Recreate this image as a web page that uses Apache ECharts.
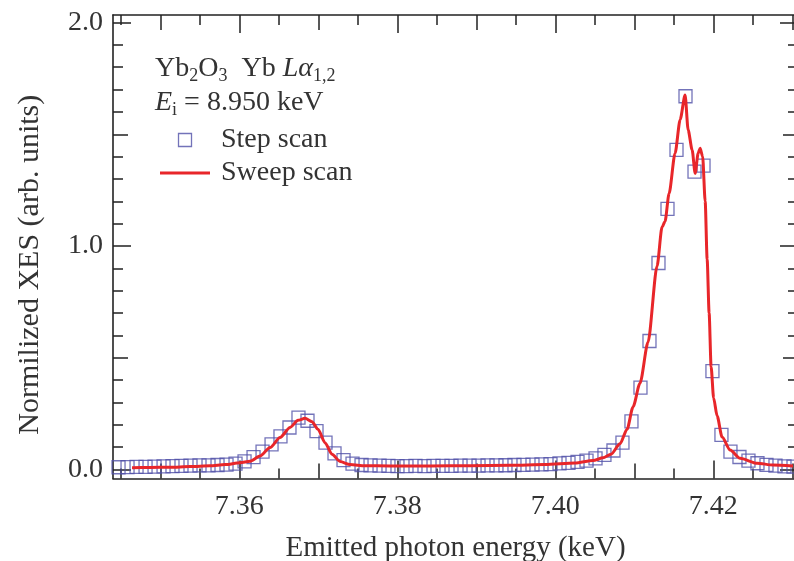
<!DOCTYPE html>
<html><head><meta charset="utf-8">
<script src="https://cdn.jsdelivr.net/npm/echarts@6/dist/echarts.min.js"></script>
<style>html,body{margin:0;padding:0;background:#fff}#c{width:794px;height:561px}</style>
</head><body><div id="c"></div>
<script>
// Step scan (squares)
const stepEnergy = [7.34471,7.34585,7.34699,7.34813,7.34927,7.35041,7.35154,7.35268,7.35382,7.35496,
  7.35610,7.35724,7.35838,7.35952,7.36066,7.36180,7.36294,7.36408,7.36521,7.36635,
  7.36749,7.36863,7.36977,7.37091,7.37205,7.37319,7.37433,7.37547,7.37661,7.37775,
  7.37888,7.38002,7.38116,7.38230,7.38344,7.38458,7.38572,7.38686,7.38800,7.38914,
  7.39028,7.39142,7.39255,7.39369,7.39483,7.39597,7.39711,7.39825,7.39939,7.40053,
  7.40167,7.40281,7.40395,7.40509,7.40622,7.40736,7.40850,7.40964,7.41078,7.41192,
  7.41306,7.41420,7.41534,7.41648,7.41762,7.41876,7.41989,7.42103,7.42217,7.42331,
  7.42445,7.42559,7.42673,7.42787,7.42901,7.43015];
const stepXES = [0.010,0.011,0.012,0.012,0.013,0.014,0.015,0.016,0.017,0.018,
  0.018,0.020,0.022,0.026,0.036,0.055,0.080,0.112,0.148,0.188,
  0.232,0.218,0.172,0.120,0.072,0.042,0.026,0.020,0.018,0.017,
  0.016,0.015,0.015,0.016,0.015,0.016,0.016,0.016,0.017,0.017,
  0.017,0.018,0.018,0.019,0.020,0.021,0.022,0.023,0.024,0.027,
  0.030,0.034,0.040,0.050,0.065,0.085,0.120,0.215,0.366,0.575,
  0.924,1.166,1.430,1.670,1.333,1.360,0.440,0.155,0.080,0.056,
  0.040,0.028,0.021,0.017,0.014,0.013];
// Sweep scan (red line)
const sweepEnergy = [7.34642,7.34870,7.35123,7.35376,7.35629,7.35819,7.36009,7.36135,7.36262,7.36389,
  7.36515,7.36642,7.36743,7.36832,7.36920,7.36996,7.37085,7.37173,7.37275,7.37401,
  7.37591,7.37908,7.38414,7.38921,7.39427,7.39870,7.40249,7.40477,7.40604,7.40705,
  7.40819,7.40908,7.40984,7.41072,7.41174,7.41288,7.41351,7.41389,7.41440,7.41516,
  7.41580,7.41643,7.41681,7.41732,7.41770,7.41808,7.41833,7.41865,7.41897,7.41922,
  7.41947,7.41972,7.42004,7.42048,7.42111,7.42213,7.42339,7.42554,7.42756,7.43009];
const sweepXES = [0.008,0.009,0.010,0.013,0.017,0.022,0.030,0.037,0.060,0.098,
  0.143,0.188,0.220,0.229,0.214,0.180,0.120,0.068,0.036,0.022,
  0.017,0.016,0.016,0.017,0.019,0.022,0.029,0.040,0.052,0.068,
  0.115,0.180,0.280,0.386,0.570,0.910,1.085,1.110,1.235,1.415,
  1.565,1.676,1.520,1.430,1.325,1.415,1.437,1.400,1.200,0.940,
  0.700,0.460,0.320,0.240,0.145,0.087,0.050,0.028,0.020,0.016];

const xLabelTicks = [7.36, 7.38, 7.40, 7.42];
const xMidTicks = [7.35, 7.37, 7.39, 7.41, 7.43];
const xMinorTicks = [7.345, 7.355, 7.365, 7.375, 7.385, 7.395, 7.405, 7.415, 7.425];
const yLabelTicks = [0, 1, 2];
const yMidTicks = [0.5, 1.5];
const yMinorTicks = [0.1,0.2,0.3,0.4,0.6,0.7,0.8,0.9,1.1,1.2,1.3,1.4,1.6,1.7,1.8,1.9];

const X_MIN = 7.34401, X_MAX = 7.43072, Y_MIN = -0.0403, Y_MAX = 2.0336;
const FONT = 'Liberation Serif', TXT = '#333', AX = '#222';

function xAx(position, ticks, len, withLabel, showLine) {
  const a = {
    type: 'value', position: position, min: X_MIN, max: X_MAX, gridIndex: 0,
    axisLine: { show: showLine, onZero: false, lineStyle: { color: AX, width: 1.6 } },
    axisTick: { show: true, inside: true, length: len, customValues: ticks, lineStyle: { color: AX, width: 1.5 } },
    axisLabel: { show: false }, splitLine: { show: false }
  };
  if (withLabel) {
    a.axisLabel = { show: true, customValues: ticks, margin: 14, color: TXT, fontFamily: FONT, fontSize: 28,
      formatter: v => v.toFixed(2) };
    a.name = 'Emitted photon energy (keV)';
    a.nameLocation = 'middle'; a.nameGap = 55;
    a.nameTextStyle = { color: TXT, fontFamily: FONT, fontSize: 29 };
  }
  return a;
}
function yAx(position, ticks, len, withLabel, showLine) {
  const a = {
    type: 'value', position: position, min: Y_MIN, max: Y_MAX, gridIndex: 0,
    axisLine: { show: showLine, onZero: false, lineStyle: { color: AX, width: 1.6 } },
    axisTick: { show: true, inside: true, length: len, customValues: ticks, lineStyle: { color: AX, width: 1.5 } },
    axisLabel: { show: false }, splitLine: { show: false }
  };
  if (withLabel) {
    a.axisLabel = { show: true, customValues: ticks, margin: 10, color: TXT, fontFamily: FONT, fontSize: 28,
      formatter: v => v.toFixed(1) };
    a.name = 'Normilized XES (arb. units)';
    a.nameLocation = 'middle'; a.nameGap = 68;
    a.nameTextStyle = { color: TXT, fontFamily: FONT, fontSize: 30, padding: [0, 36, 0, 0] };
  }
  return a;
}

const chart = echarts.init(document.getElementById('c'), null, { renderer: 'canvas' });
const subStyle = { fontFamily: FONT, fontSize: 18, lineHeight: 18, verticalAlign: 'bottom', fill: TXT };
const mainStyle = { fontFamily: FONT, fontSize: 28, lineHeight: 32, fill: TXT };
const itStyle = { fontFamily: FONT, fontSize: 28, lineHeight: 32, fontStyle: 'italic', fill: TXT };

chart.setOption({
  animation: false,
  backgroundColor: '#fff',
  grid: { left: 113, top: 15, right: -4, bottom: 82.5, containLabel: false, outerBoundsMode: 'none' },
  xAxis: [
    xAx('bottom', xLabelTicks, 18, true, true),
    xAx('bottom', xMidTicks, 15, false, false),
    xAx('bottom', xMinorTicks, 10, false, false),
    xAx('top', xLabelTicks, 18, false, true),
    xAx('top', xMidTicks, 15, false, false),
    xAx('top', xMinorTicks, 10, false, false)
  ],
  yAxis: [
    yAx('left', yLabelTicks, 18, true, true),
    yAx('left', yMidTicks, 15, false, false),
    yAx('left', yMinorTicks, 10, false, false),
    yAx('right', yLabelTicks, 18, false, true),
    yAx('right', yMidTicks, 15, false, false),
    yAx('right', yMinorTicks, 10, false, false)
  ],
  legend: {
    orient: 'vertical', left: 160, top: 126, padding: 0, itemWidth: 50, itemHeight: 13, itemGap: 5,
    selectedMode: false,
    textStyle: { fontFamily: FONT, fontSize: 28, lineHeight: 28, color: TXT, padding: [0, 0, 0, 6] },
    data: [
      { name: 'Step scan', icon: 'path://M0,0H10V10H0Z',
        itemStyle: { color: 'rgba(0,0,0,0)', borderColor: '#5050a8', borderWidth: 1.3 } },
      { name: 'Sweep scan', icon: 'path://M0,0H50V3H0Z',
        itemStyle: { color: '#e8262a', borderWidth: 0 } }
    ]
  },
  graphic: [
    { type: 'text', left: 155, top: 55,
      style: { text: '{m|Yb}{s|2}{m|O}{s|3}{m|  Yb }{i|Lα}{s|1,2}', rich: { m: mainStyle, i: itStyle, s: subStyle } } },
    { type: 'text', left: 155, top: 89,
      style: { text: '{i|E}{s|i}{m| = 8.950 keV}', rich: { m: mainStyle, i: itStyle, s: subStyle } } }
  ],
  series: [
    { name: 'Step scan', type: 'scatter', xAxisIndex: 0, yAxisIndex: 0,
      data: stepEnergy.map((e, i) => [e, stepXES[i]]),
      symbol: 'rect', symbolSize: 13,
      itemStyle: { color: 'rgba(0,0,0,0)', borderColor: '#5050a8', borderWidth: 1.3 } },
    { name: 'Sweep scan', type: 'line', xAxisIndex: 0, yAxisIndex: 0,
      data: sweepEnergy.map((e, i) => [e, sweepXES[i]]),
      symbol: 'none', smooth: 0.25, smoothMonotone: 'x', clip: true,
      lineStyle: { color: '#e8262a', width: 3 }, itemStyle: { color: '#e8262a' } }
  ]
});
</script>
</body></html>
